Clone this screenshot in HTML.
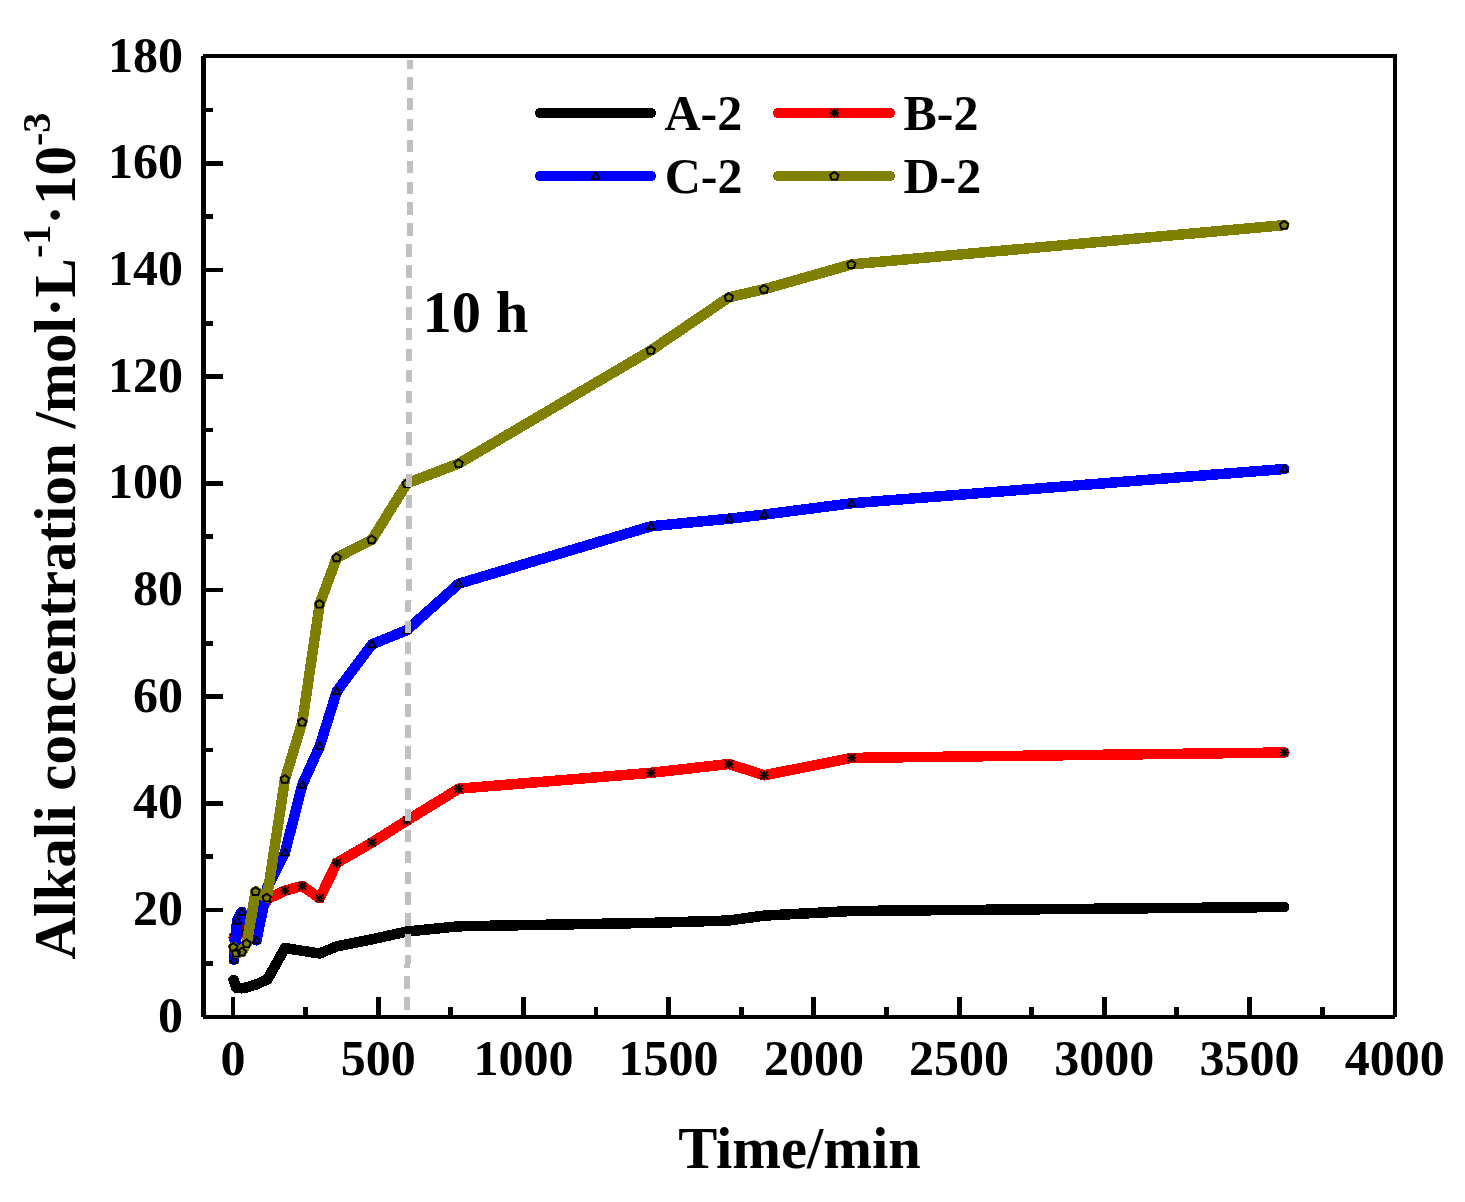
<!DOCTYPE html>
<html><head><meta charset="utf-8"><title>Alkali concentration vs time</title>
<style>
html,body{margin:0;padding:0;background:#fff}
body{width:1465px;height:1202px;overflow:hidden}
svg{display:block}
text{font-family:"Liberation Serif","Times New Roman",serif;font-weight:bold;fill:#000}
.tk{font-size:50px}
.ti{font-size:58.5px}
</style></head><body>
<svg width="1465" height="1202" viewBox="0 0 1465 1202">
<defs>
<filter id="gs" filterUnits="userSpaceOnUse" x="0" y="0" width="200" height="1202"><feColorMatrix type="saturate" values="0"/></filter>
<g id="ast" stroke="#000" stroke-width="1.6" fill="none"><path d="M-4.6,0H4.6M0,-4.6V4.6M-4,-4L4,4M-4,4L4,-4"/><rect x="-1.8" y="-1.8" width="3.6" height="3.6" fill="#000" stroke="none"/></g>
<g id="tri" stroke="#000" stroke-width="1.9" stroke-linejoin="round" fill="none"><path d="M0,-4.1L3.9,2.9H-3.9Z"/></g>
<g id="pen" stroke="#000" stroke-width="1.9" fill="none"><path d="M-0.2,-4.1L4,-1.1L2.5,3.6H-2.9L-4.4,-1.1Z"/></g>
</defs>
<rect width="1465" height="1202" fill="#fff"/>

<g shape-rendering="crispEdges">
<polyline points="233.5,979.8 236.5,988.0 241.7,988.3 247.0,987.3 256.0,984.5 267.5,979.3 285.0,948.0 302.3,950.8 319.7,953.5 336.8,946.3 371.9,939.3 406.9,931.5 458.8,926.3 651.0,922.9 729.0,920.5 764.2,915.6 851.5,911.0 1284.3,907.0" fill="none" stroke="#000" stroke-width="10.5" stroke-linecap="round" stroke-linejoin="round"/>
<polyline points="233.7,937.5 236.5,936.0 241.7,932.0 247.0,927.0 256.0,921.0 267.5,899.0 285.0,890.7 302.3,886.0 319.7,898.2 336.8,862.9 371.9,842.6 406.9,820.5 458.8,788.7 651.0,772.8 729.0,764.0 764.2,775.3 851.5,757.9 1284.3,752.5" fill="none" stroke="#f00" stroke-width="10.5" stroke-linecap="round" stroke-linejoin="round"/>
</g>
<use href="#ast" x="233.7" y="937.5"/>
<use href="#ast" x="236.5" y="936.0"/>
<use href="#ast" x="241.7" y="932.0"/>
<use href="#ast" x="247.0" y="927.0"/>
<use href="#ast" x="256.0" y="921.0"/>
<use href="#ast" x="267.5" y="899.0"/>
<use href="#ast" x="285.0" y="890.7"/>
<use href="#ast" x="302.3" y="886.0"/>
<use href="#ast" x="319.7" y="898.2"/>
<use href="#ast" x="336.8" y="862.9"/>
<use href="#ast" x="371.9" y="842.6"/>
<use href="#ast" x="406.9" y="820.5"/>
<use href="#ast" x="458.8" y="788.7"/>
<use href="#ast" x="651.0" y="772.8"/>
<use href="#ast" x="729.0" y="764.0"/>
<use href="#ast" x="764.2" y="775.3"/>
<use href="#ast" x="851.5" y="757.9"/>
<use href="#ast" x="1284.3" y="752.5"/>
<g shape-rendering="crispEdges">
<polyline points="234.0,959.8 237.0,920.8 241.6,911.8 256.5,940.3 267.4,887.0 285.0,852.5 302.3,784.9 319.7,746.2 336.8,691.4 371.9,644.4 406.9,630.1 458.8,583.7 651.0,526.3 729.0,518.7 764.2,514.6 851.5,503.3 1284.3,469.0" fill="none" stroke="#00f" stroke-width="10.5" stroke-linecap="round" stroke-linejoin="round"/>
</g>
<use href="#tri" x="234.0" y="959.8"/>
<use href="#tri" x="237.0" y="920.8"/>
<use href="#tri" x="241.6" y="911.8"/>
<use href="#tri" x="256.5" y="940.3"/>
<use href="#tri" x="285.0" y="852.5"/>
<use href="#tri" x="302.3" y="784.9"/>
<use href="#tri" x="319.7" y="746.2"/>
<use href="#tri" x="336.8" y="691.4"/>
<use href="#tri" x="371.9" y="644.4"/>
<use href="#tri" x="406.9" y="630.1"/>
<use href="#tri" x="458.8" y="583.7"/>
<use href="#tri" x="651.0" y="526.3"/>
<use href="#tri" x="729.0" y="518.7"/>
<use href="#tri" x="764.2" y="514.6"/>
<use href="#tri" x="851.5" y="503.3"/>
<use href="#tri" x="1284.3" y="469.0"/>
<g shape-rendering="crispEdges">
<polyline points="233.6,947.0 236.2,953.0 241.9,951.9 246.7,943.5 255.7,891.4 266.9,897.8 285.0,779.2 302.3,722.0 319.7,604.0 336.8,557.6 371.9,539.7 406.9,483.4 458.8,463.5 651.0,350.3 729.0,297.3 764.2,289.2 851.5,264.4 1284.3,225.1" fill="none" stroke="#808000" stroke-width="10.5" stroke-linecap="round" stroke-linejoin="round"/>
</g>
<use href="#pen" x="233.6" y="947.0"/>
<use href="#pen" x="236.2" y="953.0"/>
<use href="#pen" x="241.9" y="951.9"/>
<use href="#pen" x="246.7" y="943.5"/>
<use href="#pen" x="255.7" y="891.4"/>
<use href="#pen" x="266.9" y="897.8"/>
<use href="#pen" x="285.0" y="779.2"/>
<use href="#pen" x="302.3" y="722.0"/>
<use href="#pen" x="319.7" y="604.0"/>
<use href="#pen" x="336.8" y="557.6"/>
<use href="#pen" x="371.9" y="539.7"/>
<use href="#pen" x="406.9" y="483.4"/>
<use href="#pen" x="458.8" y="463.5"/>
<use href="#pen" x="651.0" y="350.3"/>
<use href="#pen" x="729.0" y="297.3"/>
<use href="#pen" x="764.2" y="289.2"/>
<use href="#pen" x="851.5" y="264.4"/>
<use href="#pen" x="1284.3" y="225.1"/>
<line x1="407.4" y1="1009.6" x2="410" y2="60.3" stroke="#c0c0c0" stroke-width="6" stroke-dasharray="12.6 8.31" shape-rendering="crispEdges"/>
<g fill="#000" shape-rendering="crispEdges">
<rect x="203" y="54" width="1194" height="4"/>
<rect x="203" y="1015" width="1192" height="4"/>
<rect x="201" y="56" width="5" height="961"/>
<rect x="1393" y="56" width="4" height="961"/>
<rect x="231" y="997" width="4" height="18"/>
<rect x="303" y="1007" width="5" height="8"/>
<rect x="376" y="997" width="5" height="18"/>
<rect x="448" y="1007" width="5" height="8"/>
<rect x="521" y="997" width="5" height="18"/>
<rect x="594" y="1007" width="4" height="8"/>
<rect x="666" y="997" width="5" height="18"/>
<rect x="739" y="1007" width="5" height="8"/>
<rect x="811" y="997" width="5" height="18"/>
<rect x="884" y="1007" width="5" height="8"/>
<rect x="957" y="997" width="5" height="18"/>
<rect x="1029" y="1007" width="5" height="8"/>
<rect x="1102" y="997" width="5" height="18"/>
<rect x="1174" y="1007" width="5" height="8"/>
<rect x="1247" y="997" width="5" height="18"/>
<rect x="1320" y="1007" width="5" height="8"/>
<rect x="206" y="961" width="7" height="5"/>
<rect x="206" y="908" width="17" height="4"/>
<rect x="206" y="854" width="7" height="5"/>
<rect x="206" y="801" width="17" height="5"/>
<rect x="206" y="748" width="7" height="4"/>
<rect x="206" y="694" width="17" height="5"/>
<rect x="206" y="641" width="7" height="5"/>
<rect x="206" y="588" width="17" height="4"/>
<rect x="206" y="534" width="7" height="5"/>
<rect x="206" y="481" width="17" height="5"/>
<rect x="206" y="428" width="7" height="4"/>
<rect x="206" y="374" width="17" height="5"/>
<rect x="206" y="321" width="7" height="5"/>
<rect x="206" y="268" width="17" height="4"/>
<rect x="206" y="214" width="7" height="5"/>
<rect x="206" y="161" width="17" height="5"/>
<rect x="206" y="108" width="7" height="4"/>
</g>
<text class="tk" x="233.0" y="1075" text-anchor="middle">0</text>
<text class="tk" x="378.2" y="1075" text-anchor="middle">500</text>
<text class="tk" x="523.4" y="1075" text-anchor="middle">1000</text>
<text class="tk" x="668.6" y="1075" text-anchor="middle">1500</text>
<text class="tk" x="813.9" y="1075" text-anchor="middle">2000</text>
<text class="tk" x="959.1" y="1075" text-anchor="middle">2500</text>
<text class="tk" x="1104.3" y="1075" text-anchor="middle">3000</text>
<text class="tk" x="1249.5" y="1075" text-anchor="middle">3500</text>
<text class="tk" x="1394.7" y="1075" text-anchor="middle">4000</text>
<text class="tk" x="183" y="1031.6" text-anchor="end">0</text>
<text class="tk" x="183" y="924.9" text-anchor="end">20</text>
<text class="tk" x="183" y="818.3" text-anchor="end">40</text>
<text class="tk" x="183" y="711.6" text-anchor="end">60</text>
<text class="tk" x="183" y="604.9" text-anchor="end">80</text>
<text class="tk" x="183" y="498.3" text-anchor="end">100</text>
<text class="tk" x="183" y="391.6" text-anchor="end">120</text>
<text class="tk" x="183" y="284.9" text-anchor="end">140</text>
<text class="tk" x="183" y="178.3" text-anchor="end">160</text>
<text class="tk" x="183" y="71.6" text-anchor="end">180</text>
<text class="ti" x="799.5" y="1167.5" text-anchor="middle">Time/min</text>
<g filter="url(#gs)"><text transform="translate(74.5,959.5) rotate(-90)" x="0" y="0" style="font-size:59px">Alkali concentration /mol·L<tspan font-size="40" dy="-24.5">-1</tspan><tspan dy="24.5">·10</tspan><tspan font-size="40" dy="-24.5">-3</tspan></text></g>
<text x="422.6" y="332" style="font-size:58.5px">10 h</text>
<g stroke-width="10" stroke-linecap="round" shape-rendering="crispEdges">
<line x1="540" y1="113" x2="651" y2="113" stroke="#000"/>
<line x1="778" y1="113" x2="890" y2="113" stroke="#f00"/>
<line x1="540" y1="176" x2="651" y2="176" stroke="#00f"/>
<line x1="778" y1="176" x2="890" y2="176" stroke="#808000"/>
</g>
<use href="#ast" x="834.5" y="113"/>
<use href="#tri" x="595.5" y="176"/>
<use href="#pen" x="834.5" y="176"/>
<text class="tk" x="664.5" y="130">A-2</text>
<text class="tk" x="903.4" y="130">B-2</text>
<text class="tk" x="664.7" y="193">C-2</text>
<text class="tk" x="903.4" y="193">D-2</text>
</svg></body></html>
